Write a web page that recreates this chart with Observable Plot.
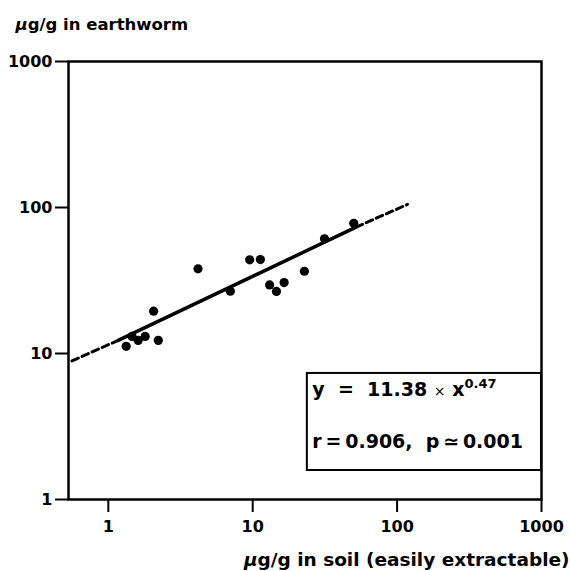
<!DOCTYPE html>
<html>
<head>
<meta charset="utf-8">
<script src="https://cdn.jsdelivr.net/npm/d3@7"></script>
<script src="https://cdn.jsdelivr.net/npm/@observablehq/plot@0.6"></script>
<style>
  html, body { margin: 0; padding: 0; background: #fff; }
</style>
</head>
<body>
<div id="chart"></div>
<script>
// Soil concentration (µg/g, easily extractable)
const soil = [1.33, 1.46, 1.61, 1.80, 2.06, 2.22, 4.18, 7.0, 9.53, 11.3, 13.1, 14.6, 16.5, 22.8, 31.4, 50.1];
// Earthworm concentration (µg/g)
const worm = [11.2, 13.1, 12.3, 13.1, 19.5, 12.3, 38.0, 26.7, 43.8, 44.0, 29.5, 26.6, 30.6, 36.6, 61.0, 78.0];

// Regression line (y = 11.38 x^0.47)
const solidX = [1.17, 52];
const solidY = [12.3, 73.4];
const dashLeftX = [0.56, 1.17];
const dashLeftY = [8.9, 12.3];
const dashRightX = [52, 118];
const dashRightY = [73.4, 105];

// Annotation box extent (data units)
const boxX = [23.9, 1000];
const boxY = [1.58, 7.3];

const xTicks = [1, 10, 100, 1000];
const yTicks = [1, 10, 100, 1000];

const eqText = "y\u00a0\u00a0=\u00a0\u00a011.38\u00a0×\u00a0x^0.47";
const statText = "r\u2009=\u20090.906,\u00a0\u00a0p\u2009≃\u20090.001";
const yLabel = "μg/g in earthworm";
const xLabel = "μg/g in soil (easily extractable)";

const points = soil.map((s, i) => ({x: s, y: worm[i]}));
const toPts = (xs, ys) => xs.map((v, i) => ({x: v, y: ys[i]}));

const font = "'DejaVu Sans', 'Liberation Sans', sans-serif";

const chart = Plot.plot({
  width: 570,
  height: 571,
  marginLeft: 68,
  marginRight: 29,
  marginTop: 61,
  marginBottom: 72,
  style: {fontFamily: font, fontWeight: "bold", fontSize: "16px", color: "#000", background: "#fff"},
  x: {type: "log", domain: [0.53, 1000]},
  y: {type: "log", domain: [1, 1000]},
  marks: [
    Plot.axisX({ticks: xTicks, tickFormat: d => String(d), tickSize: 13, tickPadding: 8, strokeWidth: 2, label: null, fontSize: 16}),
    Plot.axisY({ticks: yTicks, tickFormat: d => String(d), tickSize: 13, tickPadding: 3, strokeWidth: 2, label: null, fontSize: 16}),
    Plot.frame({strokeWidth: 2.5, stroke: "#000"}),
    Plot.line(toPts(dashLeftX, dashLeftY), {x: "x", y: "y", stroke: "#000", strokeWidth: 3, strokeDasharray: "7,4"}),
    Plot.line(toPts(dashRightX, dashRightY), {x: "x", y: "y", stroke: "#000", strokeWidth: 3, strokeDasharray: "7,4"}),
    Plot.line(toPts(solidX, solidY), {x: "x", y: "y", stroke: "#000", strokeWidth: 3.5}),
    Plot.dot(points, {x: "x", y: "y", r: 4.6, fill: "#000", stroke: "none"}),
    Plot.rect([{x1: boxX[0], x2: boxX[1], y1: boxY[0], y2: boxY[1]}], {x1: "x1", x2: "x2", y1: "y1", y2: "y2", fill: "#fff", stroke: "#000", strokeWidth: 2}),
    Plot.text([{x: boxX[0], y: boxY[1], t: eqText}], {x: "x", y: "y", text: "t", textAnchor: "start", lineAnchor: "middle", dx: 5, dy: 16, fontSize: 19, fontWeight: "bold", className: "eq"}),
    Plot.text([{x: boxX[0], y: boxY[1], t: statText}], {x: "x", y: "y", text: "t", textAnchor: "start", lineAnchor: "middle", dx: 5, dy: 68, fontSize: 19, fontWeight: "bold"}),
    Plot.text([yLabel], {frameAnchor: "top-left", text: d => d, textAnchor: "start", lineAnchor: "middle", dx: -53, dy: -37, fontSize: 16.5, fontWeight: "bold", className: "mu"}),
    Plot.text([xLabel], {frameAnchor: "bottom-right", text: d => d, textAnchor: "end", lineAnchor: "middle", dx: 28, dy: 61, fontSize: 18.5, fontWeight: "bold", className: "mu"})
  ]
});

document.getElementById("chart").appendChild(chart);

// Superscript and light multiplication sign for the equation
d3.select(chart).selectAll("g.eq text").each(function() {
  const el = d3.select(this);
  const txt = el.text();
  const [base, sup] = txt.split("^");
  const parts = base.split("×");
  el.text(null);
  el.append("tspan").text(parts[0]);
  el.append("tspan").attr("font-weight", "normal").attr("font-size", 14).text("×");
  el.append("tspan").text(parts[1]);
  el.append("tspan").attr("dy", -8).attr("font-size", 13).text(sup);
});

// Italic µ in the axis titles
d3.select(chart).selectAll("g.mu text").each(function() {
  const el = d3.select(this);
  const txt = el.text();
  el.text(null);
  el.append("tspan").attr("font-style", "italic").text(txt.slice(0, 1));
  el.append("tspan").text(txt.slice(1));
});
</script>
</body>
</html>
